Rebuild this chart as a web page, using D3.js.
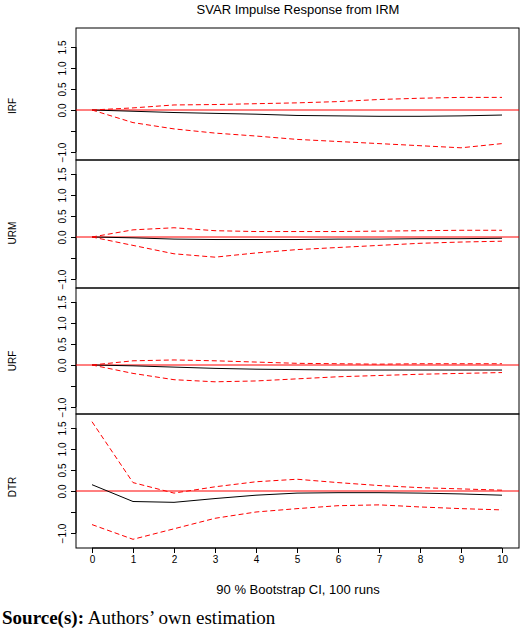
<!DOCTYPE html>
<html><head><meta charset="utf-8">
<script src="https://cdn.jsdelivr.net/npm/d3@7"></script>
<style>body{margin:0;background:#fff}</style>
</head><body><svg width="520" height="632"></svg>
<script>
var steps = [0,1,2,3,4,5,6,7,8,9,10]
var names = ["IRF","URM","URF","DTR"]
var resp = [
  [0,-0.03,-0.06,-0.08,-0.1,-0.13,-0.14,-0.15,-0.15,-0.14,-0.12],
  [0,-0.02,-0.05,-0.06,-0.06,-0.06,-0.05,-0.05,-0.04,-0.04,-0.03],
  [0,-0.02,-0.05,-0.08,-0.1,-0.11,-0.12,-0.12,-0.12,-0.12,-0.12],
  [0.15,-0.25,-0.27,-0.18,-0.1,-0.05,-0.04,-0.04,-0.05,-0.07,-0.1]
]
var lower = [
  [0,-0.3,-0.45,-0.55,-0.62,-0.7,-0.75,-0.8,-0.85,-0.9,-0.8],
  [0,-0.2,-0.4,-0.48,-0.38,-0.3,-0.25,-0.2,-0.15,-0.12,-0.1],
  [0,-0.2,-0.35,-0.4,-0.38,-0.33,-0.28,-0.25,-0.22,-0.2,-0.18],
  [-0.8,-1.15,-0.9,-0.65,-0.5,-0.42,-0.35,-0.33,-0.38,-0.42,-0.45]
]
var upper = [
  [0,0.05,0.12,0.13,0.15,0.17,0.2,0.25,0.28,0.3,0.3],
  [0,0.17,0.22,0.15,0.13,0.13,0.13,0.14,0.15,0.16,0.16],
  [0,0.1,0.12,0.1,0.07,0.04,0.03,0.02,0.03,0.03,0.03],
  [1.65,0.2,-0.05,0.1,0.22,0.28,0.2,0.13,0.08,0.05,0.02]
]
var yTicks = [-1,-0.5,0,0.5,1,1.5]

var svg = d3.select("svg")
var left = 76, right = 519
var tops = [28,160,288,414], bottoms = [160,288,414,548]
var x = d3.scaleLinear().domain([0,10]).range([92,502])

svg.append("text").attr("x",298).attr("y",14).attr("text-anchor","middle")
  .style("font-family","Liberation Sans").style("font-size","13px").text("SVAR Impulse Response from IRM")

names.forEach(function(name,i)
{
  var zero = tops[i] + 82 - (i==0?0:(i==3?5:5))
  var y = d3.scaleLinear().domain([0,1]).range([zero, zero-42])
  var g = svg.append("g")
  g.append("rect").attr("x",left).attr("y",tops[i]).attr("width",right-left).attr("height",bottoms[i]-tops[i])
    .attr("fill","none").attr("stroke","#000")
  var ax = g.append("g").attr("transform","translate("+left+",0)")
    .call(d3.axisLeft(y).tickValues(yTicks).tickSize(5).tickFormat(function(d){return d==-0.5?"":d3.format(".1f")(d)}))
  ax.select(".domain").attr("d","M0,"+y(-1)+"V"+y(1.5))
  ax.selectAll(".tick text").attr("x",0).attr("dy","0").attr("transform","translate(-10,0) rotate(-90)")
    .attr("text-anchor","middle")
    .style("font-family","Liberation Sans").style("font-size","10px")
  g.append("text").attr("transform","translate(16,"+(zero-4)+") rotate(-90)").attr("text-anchor","middle")
    .style("font-family","Liberation Sans").style("font-size","10px").text(name)
  g.append("line").attr("x1",left).attr("x2",right).attr("y1",y(0)).attr("y2",y(0)).attr("stroke","#f00")
  var line = d3.line().x(function(d,k){return x(steps[k])}).y(function(d){return y(d)})
  g.append("path").attr("d",line(resp[i])).attr("fill","none").attr("stroke","#000")
  ;[lower[i],upper[i]].forEach(function(s)
  {
    g.append("path").attr("d",line(s)).attr("fill","none").attr("stroke","#f00").attr("stroke-dasharray","5,3")
  })
})

var xa = svg.append("g").attr("transform","translate(0,548)").call(d3.axisBottom(x).tickValues(steps).tickSize(5))
xa.select(".domain").attr("d","M92,0H502")
xa.selectAll("text").style("font-family","Liberation Sans").style("font-size","10px")

svg.append("text").attr("x",298).attr("y",594).attr("text-anchor","middle")
  .style("font-family","Liberation Sans").style("font-size","13px").text("90 % Bootstrap CI,  100 runs")
var src = svg.append("text").attr("x",2).attr("y",624).style("font-family","Liberation Serif").style("font-size","19px")
src.append("tspan").attr("font-weight","bold").text("Source(s):")
src.append("tspan").text(" Authors’ own estimation")
</script></body></html>
